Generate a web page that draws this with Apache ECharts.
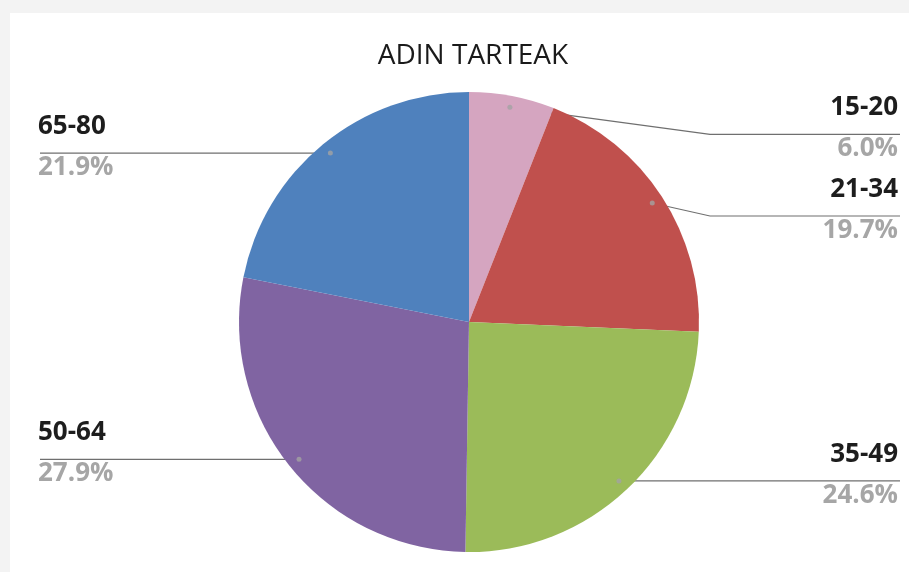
<!DOCTYPE html>
<html>
<head>
<meta charset="utf-8">
<script src="https://cdn.jsdelivr.net/npm/echarts@6/dist/echarts.min.js"></script>
<style>
  html, body { margin: 0; padding: 0; background: #f3f3f3; }
  #chart { width: 909px; height: 572px; }
</style>
</head>
<body>
<div id="chart"></div>
<script>
// Age groups and their share of respondents (%)
const ageGroups = ['15-20', '21-34', '35-49', '50-64', '65-80'];
const shares = [6.0, 19.7, 24.6, 27.9, 21.9];
const sliceColors = ['#d5a5c0', '#c0504d', '#9bbb59', '#8064a2', '#4f81bd'];

// Pie geometry
const CX = 469, CY = 322, R = 230;
const ANCHOR = 0.95;              // leader lines start just inside the rim
const RIGHT_KNEE_X = 710, RIGHT_END_X = 900, LEFT_END_X = 40;
// Vertical nudges for crowded labels on the right-hand side
const labelShift = { 0: 27, 1: 13 };

const total = shares.reduce((a, b) => a + b, 0);
const midShares = [];
let acc = 0;
shares.forEach(v => { midShares.push(acc + v / 2); acc += v; });

function anchorPoint(i) {
  const theta = midShares[i] / total * 2 * Math.PI;
  return [CX + ANCHOR * R * Math.sin(theta), CY - ANCHOR * R * Math.cos(theta)];
}

const chart = echarts.init(document.getElementById('chart'), null, { renderer: 'canvas' });

chart.setOption({
  backgroundColor: '#f3f3f3',
  animation: false,
  graphic: [{
    type: 'rect', left: 10, top: 13, z: -10,
    shape: { width: 899, height: 559 },
    style: { fill: '#ffffff' }
  }],
  title: {
    text: 'ADIN TARTEAK',
    left: 468, top: 37, textAlign: 'center',
    textStyle: { fontFamily: 'Open Sans', fontSize: 28, fontWeight: 'normal', color: '#1a1a1a' }
  },
  polar: { center: [CX, CY], radius: R },
  angleAxis: { type: 'value', min: 0, max: total, startAngle: 90, clockwise: true, show: false },
  radiusAxis: { type: 'value', min: 0, max: 1, show: false },
  series: [{
    type: 'pie',
    center: [CX, CY],
    radius: R,
    startAngle: 90,
    clockwise: true,
    avoidLabelOverlap: false,
    data: ageGroups.map((name, i) => ({ name, value: shares[i], itemStyle: { color: sliceColors[i] } })),
    itemStyle: { borderWidth: 0 },
    label: {
      show: true,
      position: 'outer',
      alignTo: 'none',
      formatter: p => '{n|' + p.name + '}\n{p|' + p.value.toFixed(1) + '%}',
      rich: {
        n: { fontFamily: 'Open Sans', fontSize: 26, fontWeight: 700, color: '#1d1d1d', lineHeight: 41 },
        p: { fontFamily: 'Open Sans', fontSize: 26, fontWeight: 700, color: '#a6a6a6', lineHeight: 41 }
      }
    },
    labelLine: { show: true, lineStyle: { color: '#6f6f6f', width: 1.2 } },
    labelLayout: params => {
      const i = params.dataIndex;
      const dot = anchorPoint(i);
      const right = dot[0] > CX;
      const lineY = dot[1] + (labelShift[i] || 0);
      return {
        x: right ? 898 : 38,
        y: lineY - 6,
        align: right ? 'right' : 'left',
        verticalAlign: 'middle',
        labelLinePoints: right
          ? [dot, [RIGHT_KNEE_X, lineY], [RIGHT_END_X, lineY]]
          : [dot, [LEFT_END_X, lineY], [LEFT_END_X, lineY]]
      };
    },
    emphasis: { disabled: true }
  }, {
    // small markers where each leader line meets its slice
    type: 'scatter',
    coordinateSystem: 'polar',
    symbol: 'circle',
    symbolSize: 5,
    z: 5,
    itemStyle: { color: '#a3a3a3' },
    data: midShares.map(m => [ANCHOR, m]),
    silent: true
  }]
});
</script>
</body>
</html>
